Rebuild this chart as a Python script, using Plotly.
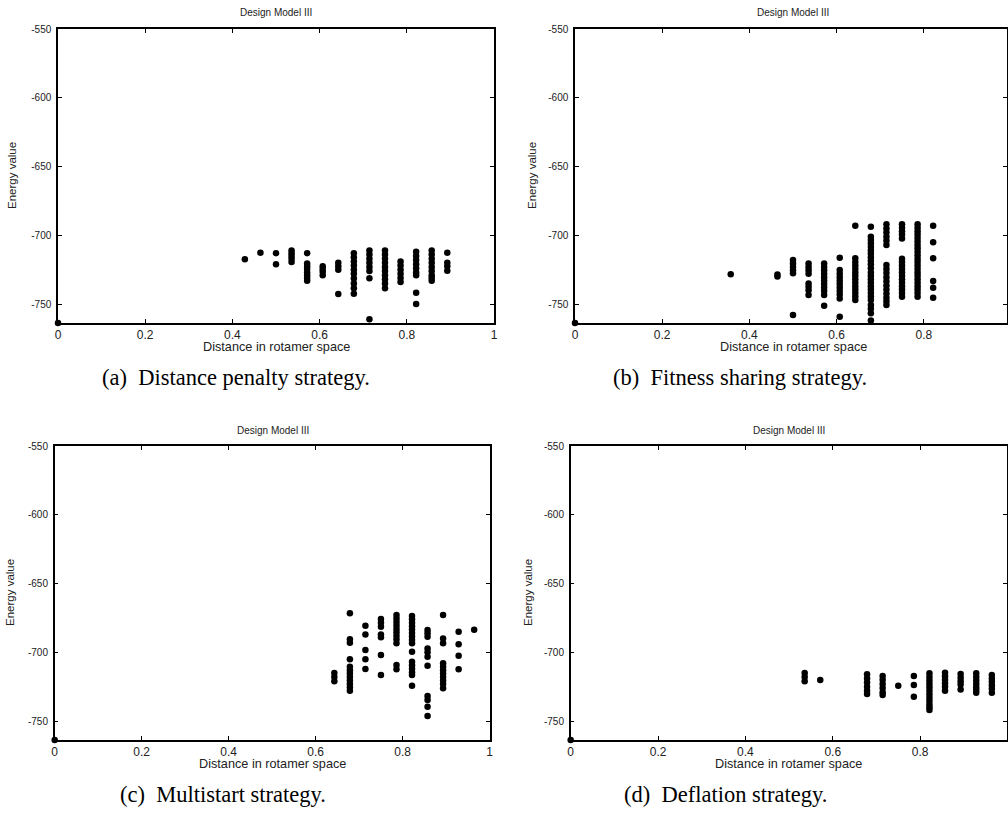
import plotly.graph_objects as go

# ---------------- data ----------------
def k(n):
    return n / 28.0

# (a) Distance penalty strategy
a_x_cols = [0, 12, 13, 14, 15, 16, 17, 18, 19, 20, 21, 22, 23, 24, 25]
a_e_cols = [
    [-763.8],
    [-717.5],
    [-712.7],
    [-713, -721],
    [-711, -713, -715, -717, -719.5],
    [-713, -720.5, -722.5, -724.5, -727, -729, -731, -733],
    [-722.5, -724.5, -726.5, -729],
    [-720, -722.5, -725, -742.7],
    [-713, -716, -719, -722, -725, -728, -731.5, -735, -738.5, -742.5],
    [-711, -714, -717, -720, -723, -726, -731.3, -761],
    [-711, -714, -717, -720, -723, -726, -729, -732, -735, -738.6],
    [-719, -722, -725, -728, -731, -734],
    [-712, -715, -718, -721, -724, -727, -729, -741.8, -750],
    [-711, -714, -717, -720, -723, -726, -729, -731, -733],
    [-712.7, -720, -722.5, -725.8],
]

# (b) Fitness sharing strategy
b_x_cols = [0, 10, 13, 14, 15, 16, 17, 18, 19, 20, 21, 22, 23]
b_e_cols = [
    [-763.8],
    [-728.4],
    [-728.5, -730],
    [-718, -720.5, -723, -725.5, -727.7, -758],
    [-720.5, -723, -725.5, -728, -735, -737.5, -740, -743.5],
    [-720.5, -723, -725.5, -728, -730.5, -733, -735.5, -738, -740.5, -743.5, -751.2],
    [-716.3, -725.3, -728, -730.5, -733, -735.5, -738, -740.5, -743, -745.9, -759.2],
    [-693, -716.8, -719.5, -722, -724.5, -727, -729.5, -732, -734.5, -737, -739.5, -742, -744.5, -747.1],
    [-693.8, -701, -703.5, -706, -708.5, -711, -713.5, -716, -718.5, -721, -724, -727, -729.5, -732,
     -734.5, -737, -739.5, -742, -744.5, -747, -750.7, -753.5, -756.7, -762],
    [-692, -695, -698, -701, -704, -707, -721.6, -724.5, -727.5, -730.5, -733.5, -736.5, -739.5,
     -742.5, -745.5, -748, -750.7],
    [-692, -694.5, -697, -699.5, -702.4, -717, -719.5, -722, -724.5, -727, -729.5, -732, -734.5,
     -737, -739.5, -742, -744.7],
    [-692, -694.5, -697, -699.5, -702, -704.5, -707, -709.5, -712, -714.5, -717, -719.5, -722,
     -724.5, -727, -729.5, -732, -734.5, -737, -739.5, -742, -744.7],
    [-693, -705.1, -716.8, -733.3, -738.1, -745.4],
]

# (c) Multistart strategy
c_x_cols = [0, 18, 19, 20, 21, 22, 23, 24, 25, 26, 27]
c_e_cols = [
    [-763.8],
    [-715, -718, -721],
    [-671.7, -690.6, -693, -705.1, -710.5, -713, -715.5, -718, -720.5, -723, -725.5, -728],
    [-680.7, -687, -698.4, -705.1, -712.2],
    [-675.8, -678.5, -681.4, -687, -689.1, -702, -716.5],
    [-672.9, -675.5, -678, -680.5, -683, -685.5, -688, -690.5, -693.5, -709.3, -712.4],
    [-673.6, -676, -678.5, -681, -683.5, -686, -688.5, -691, -693.5, -699.6, -706.9, -709.5,
     -712, -714.5, -716.5, -724.3],
    [-683.8, -686.2, -688.7, -697.3, -700, -703.2, -709.8, -731.8, -734.7, -739.6, -746.4],
    [-672.9, -689.9, -693.5, -708, -710.5, -713, -715.5, -718, -720.5, -723, -726.2],
    [-685, -694.2, -702.5, -712.4],
    [-683.6],
]

# (d) Deflation strategy
d_x_cols = [0, 15, 16, 19, 20, 21, 22, 23, 24, 25, 26, 27]
d_e_cols = [
    [-763.8],
    [-715, -718, -721],
    [-720.2],
    [-716, -719, -722, -725, -728, -730.4],
    [-717.3, -720, -723, -726, -729, -731.1],
    [-724.3],
    [-717.3, -723.8, -732.3],
    [-715.3, -718, -720.5, -723, -725.5, -728, -730.5, -733, -735.5, -738, -740, -742],
    [-714.9, -717.5, -720, -722.5, -725, -728],
    [-715.8, -718.5, -721, -723.5, -727],
    [-715.3, -718, -720.5, -723, -725.5, -727.5, -729.5],
    [-716.5, -719, -721.5, -724, -726.5, -729.4],
]

panel_titles = ["Design Model III"] * 4
captions = ["(a)\u00a0\u00a0Distance penalty strategy.", "(b)\u00a0\u00a0Fitness sharing strategy.",
            "(c)\u00a0\u00a0Multistart strategy.", "(d)\u00a0\u00a0Deflation strategy."]
x_title = "Distance in rotamer space"
y_title = "Energy value"
y_ticks = [-750, -700, -650, -600, -550]
y_ticktext = ["-750", "-700", "-650", "-600", "-550"]
x_ticks = [0, 0.2, 0.4, 0.6, 0.8, 1]
x_ticktext = ["0", "0.2", "0.4", "0.6", "0.8", "1"]

# ---------------- layout geometry (pixels) ----------------
W, H = 1008, 818
panels = [
    dict(x0=58, x1=494, yt=29, yb=323, xmax=1.0, cols=(a_x_cols, a_e_cols),
         cap_x=236, cap_y=377, ylab_x=12),
    dict(x0=575, x1=1007, yt=29, yb=323, xmax=0.9908, cols=(b_x_cols, b_e_cols),
         cap_x=740, cap_y=377, ylab_x=532),
    dict(x0=54.7, x1=489.7, yt=446, yb=740, xmax=1.0, cols=(c_x_cols, c_e_cols),
         cap_x=223, cap_y=794, ylab_x=10),
    dict(x0=570.7, x1=1007, yt=446, yb=740, xmax=0.999, cols=(d_x_cols, d_e_cols),
         cap_x=725, cap_y=794, ylab_x=528),
]

def px(x):
    return x / W

def py(y):
    return 1 - y / H

fig = go.Figure()
annotations = []
font_sans = "Liberation Sans, Arial, Helvetica, sans-serif"
font_serif = "Liberation Serif, Times New Roman, serif"

for i, p in enumerate(panels):
    n = "" if i == 0 else str(i + 1)
    xs, es = [], []
    for c, col in zip(p["cols"][0], p["cols"][1]):
        for e in col:
            xs.append(k(c))
            es.append(e)
    fig.add_trace(go.Scatter(
        x=xs, y=es, mode="markers", xaxis="x" + n, yaxis="y" + n,
        marker=dict(color="black", size=6.5, line=dict(width=0)),
        cliponaxis=False, showlegend=False, hoverinfo="x+y"))
    common = dict(showline=True, linecolor="black", linewidth=1.5, mirror="ticks",
                  ticks="inside", ticklen=4, tickwidth=1, tickcolor="black",
                  showgrid=False, zeroline=False, automargin=False)
    fig.update_layout(**{
        "xaxis" + n: dict(domain=[px(p["x0"]), px(p["x1"])], range=[0, p["xmax"]],
                          anchor="y" + n, tickvals=x_ticks, ticktext=x_ticktext,
                          tickfont=dict(family=font_sans, size=12, color="#222"),
                          **common),
        "yaxis" + n: dict(domain=[py(p["yb"]), py(p["yt"])], range=[-763.8, -550],
                          anchor="x" + n, tickvals=y_ticks, ticktext=y_ticktext,
                          ticklabelstandoff=3,
                          tickfont=dict(family=font_sans, size=10, color="#222"),
                          **common),
    })
    cx = (p["x0"] + p["x0"] + 436) / 2
    annotations.append(dict(text=panel_titles[i], x=px(cx), y=py(p["yt"] - 16),
                            xref="paper", yref="paper", showarrow=False,
                            xanchor="center", yanchor="middle",
                            font=dict(family=font_sans, size=10, color="#222")))
    annotations.append(dict(text=x_title, x=px(cx), y=py(p["yb"] + 23.5),
                            xref="paper", yref="paper", showarrow=False,
                            xanchor="center", yanchor="middle",
                            font=dict(family=font_sans, size=12.7, color="#222")))
    annotations.append(dict(text=y_title, x=px(p["ylab_x"]), y=py((p["yt"] + p["yb"]) / 2),
                            xref="paper", yref="paper", showarrow=False, textangle=-90,
                            xanchor="center", yanchor="middle",
                            font=dict(family=font_sans, size=11.5, color="#222")))
    annotations.append(dict(text=captions[i], x=px(p["cap_x"]), y=py(p["cap_y"]),
                            xref="paper", yref="paper", showarrow=False,
                            xanchor="center", yanchor="middle",
                            font=dict(family=font_serif, size=22.5, color="black")))

fig.update_layout(width=W, height=H, margin=dict(l=0, r=0, t=0, b=0),
                  paper_bgcolor="white", plot_bgcolor="white",
                  annotations=annotations)
fig.write_html(
    "out.html",
    config={"displayModeBar": False},
    post_script=("document.body.style.margin='0';"
                 "document.body.style.overflow='hidden';"
                 "document.documentElement.style.overflow='hidden';"),
)
